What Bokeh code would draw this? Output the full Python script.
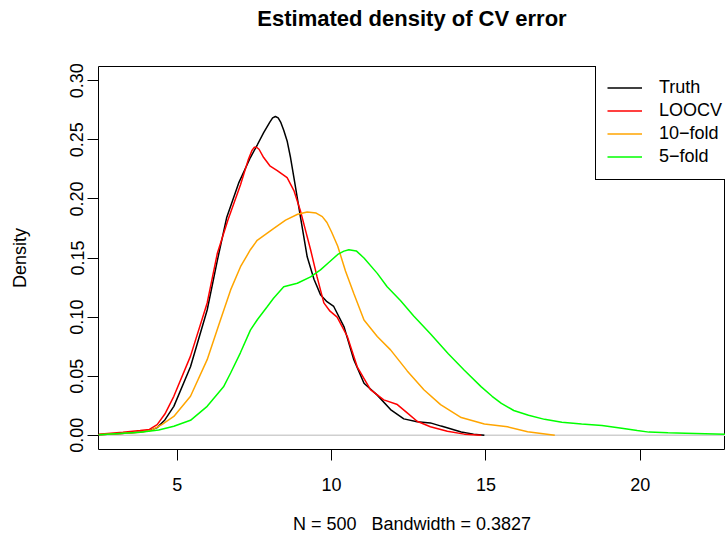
from bokeh.plotting import figure
from bokeh.models import (Range1d, FixedTicker, PrintfTickFormatter, Legend,
                          LegendItem, Span, Title)
from bokeh.embed import file_html
from bokeh.resources import INLINE

# ---------------- texts ----------------
title_text = "Estimated density of CV error"
x_label_text = "N = 500 \u00a0 Bandwidth = 0.3827"
y_label_text = "Density"

# ---------------- ticks ----------------
x_ticks = [5, 10, 15, 20]
y_ticks = [0.00, 0.05, 0.10, 0.15, 0.20, 0.25, 0.30]

# ---------------- series ----------------
series_names = ["Truth", "LOOCV", "10\u2212fold", "5\u2212fold"]
series_colors = ["black", "#FF0000", "#FFA500", "#00FF00"]

truth_x = [2.45, 3.2, 3.8, 4.1, 4.35, 4.6, 4.89, 5.43, 5.97, 6.3, 6.6, 7.0,
           7.37, 7.6, 7.8, 8.0, 8.09, 8.18, 8.27, 8.35, 8.45, 8.56, 8.67, 8.78,
           8.99, 9.21, 9.43, 9.64, 9.85, 10.07, 10.4, 10.72, 11.05, 11.48,
           11.91, 12.34, 12.77, 13.2, 13.55, 13.85, 14.2, 14.6, 14.95]
truth_y = [0.0005, 0.0015, 0.0028, 0.004, 0.0065, 0.013, 0.0245, 0.058, 0.106,
           0.148, 0.184, 0.214, 0.235, 0.246, 0.256, 0.265, 0.2685, 0.2697,
           0.2685, 0.265, 0.258, 0.249, 0.235, 0.218, 0.185, 0.151, 0.132,
           0.119, 0.113, 0.109, 0.092, 0.064, 0.044, 0.034, 0.0218, 0.0139,
           0.0114, 0.0105, 0.0078, 0.0055, 0.0028, 0.001, 0.0]

loocv_x = [2.45, 3.24, 3.8, 4.1, 4.35, 4.6, 4.89, 5.43, 5.97, 6.3, 6.64, 7.05,
           7.3, 7.42, 7.5, 7.58, 7.65, 7.8, 8.0, 8.24, 8.56, 8.78, 8.99, 9.15,
           9.32, 9.53, 9.75, 9.95, 10.18, 10.51, 10.83, 11.26, 11.69, 12.13,
           12.45, 12.77, 13.2, 13.75, 14.3, 14.85]
loocv_y = [0.0008, 0.0025, 0.004, 0.005, 0.009, 0.018, 0.033, 0.067, 0.112,
           0.154, 0.182, 0.212, 0.233, 0.241, 0.2438, 0.2435, 0.242, 0.235,
           0.228, 0.224, 0.218, 0.207, 0.190, 0.174, 0.157, 0.134, 0.112,
           0.105, 0.100, 0.0836, 0.058, 0.0386, 0.030, 0.026, 0.019, 0.0119,
           0.0072, 0.0035, 0.001, 0.0]

fold10_x = [2.45, 3.2, 3.8, 4.14, 4.5, 4.89, 5.43, 5.97, 6.4, 6.73, 7.05, 7.37,
            7.59, 8.13, 8.51, 8.9, 9.21, 9.5, 9.7, 9.85, 10.0, 10.2, 10.45,
            10.72, 11.05, 11.48, 11.91, 12.45, 12.99, 13.53, 14.2, 14.95, 15.7,
            16.35, 17.23]
fold10_y = [0.0005, 0.0015, 0.0025, 0.004, 0.009, 0.016, 0.033, 0.064, 0.0976,
            0.123, 0.1426, 0.157, 0.165, 0.175, 0.182, 0.187, 0.189, 0.188,
            0.185, 0.180, 0.172, 0.160, 0.139, 0.120, 0.0976, 0.0836, 0.0723,
            0.0545, 0.0386, 0.026, 0.015, 0.0095, 0.0072, 0.003, 0.0]

fold5_x = [2.45, 3.81, 4.4, 4.89, 5.43, 5.97, 6.5, 6.73, 7.05, 7.37, 7.6, 7.92,
           8.12, 8.45, 8.89, 9.32, 9.64, 9.9, 10.2, 10.4, 10.56, 10.8, 11.05,
           11.48, 11.8, 12.23, 12.66, 13.2, 13.78, 14.3, 14.85, 15.2, 15.5,
           15.9, 16.38, 16.9, 17.46, 18.1, 18.76, 19.4, 19.9, 20.28, 20.9,
           21.46, 22.1, 22.76]
fold5_y = [0.0005, 0.0026, 0.0045, 0.0077, 0.0127, 0.0245, 0.041, 0.0527,
           0.070, 0.089, 0.098, 0.109, 0.116, 0.1257, 0.1286, 0.134, 0.140,
           0.146, 0.153, 0.1558, 0.157, 0.156, 0.150, 0.137, 0.1257, 0.114,
           0.101, 0.086, 0.069, 0.055, 0.041, 0.033, 0.027, 0.021, 0.017,
           0.0135, 0.011, 0.0095, 0.0084, 0.006, 0.004, 0.0027, 0.0021, 0.0018,
           0.0013, 0.0008]

series_x = [truth_x, loocv_x, fold10_x, fold5_x]
series_y = [truth_y, loocv_y, fold10_y, fold5_y]

# ---------------- figure ----------------
x_lo, x_hi = 2.45, 22.76
y_lo, y_hi = -0.012, 0.312
FONT = "Liberation Sans"

p = figure(width=725, height=538, output_backend="svg", toolbar_location=None,
           x_range=Range1d(x_lo, x_hi), y_range=Range1d(y_lo, y_hi),
           min_border_left=98, min_border_right=0, min_border_top=66,
           min_border_bottom=89)
p.background_fill_color = "white"
p.border_fill_color = "white"
p.outline_line_color = "black"
p.outline_line_width = 1
p.grid.visible = False

# plot title: the built-in title is emptied; a blank spacer sits next to the
# frame and the real title sits above it (list order = from frame outward)
p.title.text = ""
p.title.standoff = 0
spacer = Title(text=" ", text_font=FONT, text_font_size="18px", standoff=14)
main_title = Title(text=title_text, align="center", text_font=FONT,
                   text_font_size="22px", text_font_style="bold",
                   text_color="black", standoff=0, vertical_align="bottom")
p.add_layout(spacer, "above")
p.add_layout(main_title, "above")

for ax in (p.xaxis[0], p.yaxis[0]):
    ax.axis_line_color = None
    ax.major_tick_out = 11
    ax.major_tick_in = 0
    ax.minor_tick_out = 0
    ax.minor_tick_in = 0
    ax.major_tick_line_color = "black"
    ax.major_tick_line_width = 1
    ax.major_label_text_font = FONT
    ax.major_label_text_font_size = "18px"
    ax.major_label_text_color = "black"
    ax.axis_label_text_font = FONT
    ax.axis_label_text_font_size = "18px"
    ax.axis_label_text_font_style = "normal"
    ax.axis_label_text_color = "black"

p.xaxis.ticker = FixedTicker(ticks=x_ticks)
p.yaxis.ticker = FixedTicker(ticks=y_ticks)
p.xaxis.formatter = PrintfTickFormatter(format="%d")
p.yaxis.formatter = PrintfTickFormatter(format="%.2f")
p.yaxis.major_label_orientation = "vertical"
p.xaxis.major_label_standoff = 17
p.yaxis.major_label_standoff = 4

p.yaxis.axis_label = y_label_text
p.yaxis.axis_label_standoff = 38
p.xaxis.axis_label = x_label_text
p.xaxis.axis_label_standoff = 20

# zero line (R's zero.line)
p.add_layout(Span(location=0, dimension="width", line_color="#CFCFCF",
                  line_width=1.5, level="underlay"))

renderers = []
for xs, ys, col in zip(series_x, series_y, series_colors):
    renderers.append(p.line(xs, ys, line_color=col, line_width=1.5))

legend = Legend(items=[LegendItem(label=n, renderers=[r])
                       for n, r in zip(series_names, renderers)],
                location=(497, 269), orientation="vertical",
                border_line_color="black", border_line_width=1,
                border_line_alpha=1.0,
                background_fill_color="white", background_fill_alpha=1.0,
                padding=11, spacing=0, margin=0,
                glyph_width=35, glyph_height=23, label_height=23,
                label_standoff=17,
                label_text_font=FONT, label_text_font_size="18px",
                label_text_color="black")
p.add_layout(legend)

open("out.html", "w").write(file_html(p, INLINE))
